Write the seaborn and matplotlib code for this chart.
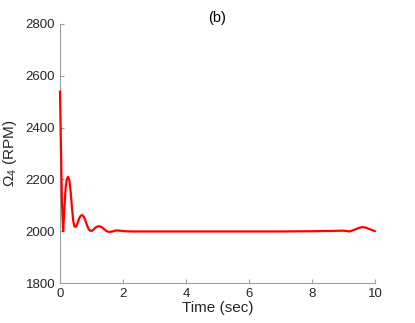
import matplotlib
matplotlib.use("Agg")
import matplotlib.pyplot as plt
import seaborn as sns
import pandas as pd

time = [0.0, 0.03, 0.06, 0.1, 0.14, 0.18, 0.22, 0.26, 0.30, 0.34, 0.38, 0.42, 0.46, 0.51,
        0.56, 0.61, 0.66, 0.71, 0.76, 0.81, 0.86, 0.91, 0.96, 1.0, 1.06, 1.12, 1.18, 1.25,
        1.32, 1.4, 1.48, 1.57, 1.66, 1.78, 1.9, 2.05, 2.3, 3.0, 4.0, 5.0, 6.0, 7.0, 8.0,
        8.6, 9.0, 9.2, 9.35, 9.5, 9.6, 9.7, 9.85, 10.0]
omega4 = [2540, 2330, 2120, 2000, 2090, 2170, 2203, 2210, 2195, 2150, 2090, 2040, 2018, 2017,
          2032, 2050, 2060, 2062, 2055, 2040, 2022, 2008, 2002, 2001, 2006, 2013, 2018, 2019,
          2016, 2008, 2000, 1997, 1999, 2003, 2002, 2000, 1999, 1999, 1999, 1999, 1999, 1999, 2000,
          2001, 2002, 1999, 2006, 2013, 2016, 2014, 2007, 2000]

df = pd.DataFrame({"t": time, "w": omega4})

sns.set_style("white")
plt.rcParams['font.family'] = ['Liberation Sans', 'DejaVu Sans']
plt.rcParams['mathtext.fontset'] = 'custom'
plt.rcParams['mathtext.rm'] = 'Liberation Sans'
plt.rcParams['mathtext.it'] = 'Liberation Sans'

fig = plt.figure(figsize=(4.15, 3.23), dpi=100)
ax = fig.add_axes([60/415, 1-283/323, (375-60)/415, (283-24)/323])
sns.lineplot(data=df, x="t", y="w", color="red", linewidth=1.6, ax=ax, zorder=5)
for ln in ax.lines:
    ln.set_clip_on(False)

ax.set_xlim(0, 10)
ax.set_ylim(1800, 2800)
ax.set_xticks([0, 2, 4, 6, 8, 10])
ax.set_yticks([1800, 2000, 2200, 2400, 2600, 2800])
ax.set_xlabel("Time (sec)", fontsize=11, color="#262626")
ax.set_ylabel(r"$\Omega_4$ (RPM)", fontsize=11, color="#262626")
ax.yaxis.set_label_coords((19 - 60) / 315, 0.5)
ax.xaxis.set_label_coords(0.5, (283 - 301) / 259)
ax.set_title("(b)", fontsize=10.5, color="#000000", pad=1.5)
for s in ["top", "right"]:
    ax.spines[s].set_visible(False)
for s in ["left", "bottom"]:
    ax.spines[s].set_color("#a0a0a0")
    ax.spines[s].set_linewidth(0.8)
ax.tick_params(direction="in", length=3, width=0.8, color="#a0a0a0",
               labelsize=9.5, labelcolor="#262626", left=True, bottom=True, pad=3.5)

fig.savefig("out.png", dpi=100)
